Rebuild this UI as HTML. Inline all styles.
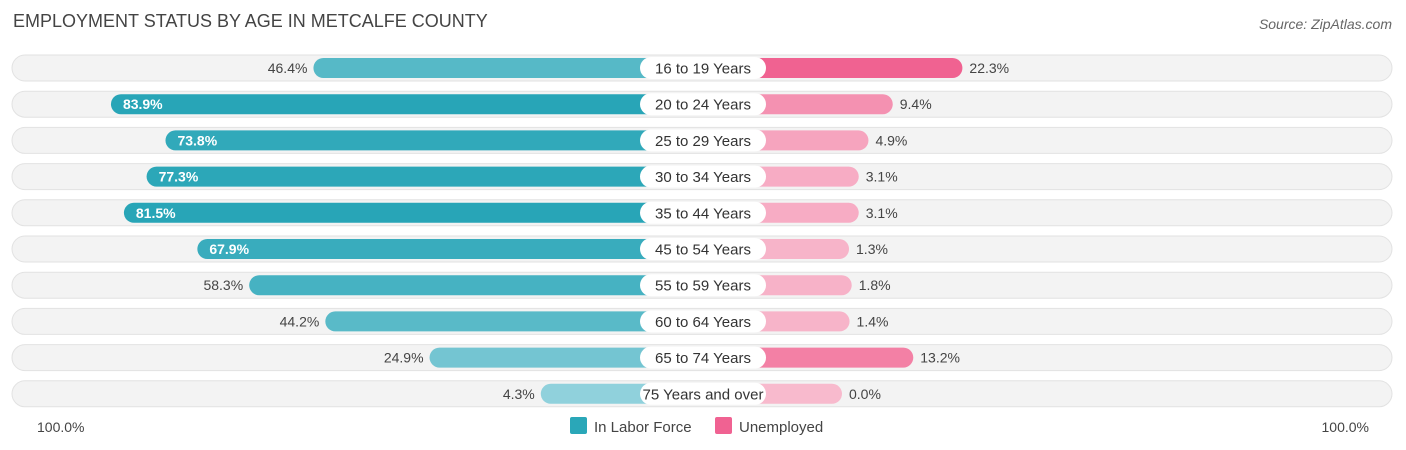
<!DOCTYPE html>
<html><head><meta charset="utf-8"><style>
body{margin:0;background:#fff;font-family:"Liberation Sans",sans-serif;}
#wrap{position:relative;width:1406px;height:450px;overflow:hidden;}
.title{position:absolute;left:13px;top:11px;font-size:18px;color:#444;}
.src{position:absolute;right:14px;top:16px;font-size:14px;color:#666;font-style:italic;}
</style></head><body>
<div id="wrap">
<div class="title">EMPLOYMENT STATUS BY AGE IN METCALFE COUNTY</div>
<div class="src">Source: ZipAtlas.com</div>
<svg id="svg" width="1406" height="450" style="position:absolute;left:0;top:0"></svg>
</div>
<script>
const categories=["16 to 19 Years","20 to 24 Years","25 to 29 Years","30 to 34 Years","35 to 44 Years","45 to 54 Years","55 to 59 Years","60 to 64 Years","65 to 74 Years","75 Years and over"];
const laborForce=[46.4,83.9,73.8,77.3,81.5,67.9,58.3,44.2,24.9,4.3];
const unemployed=[22.3,9.4,4.9,3.1,3.1,1.3,1.8,1.4,13.2,0.0];
const axisLabels=["100.0%","100.0%"];
const NS="http://www.w3.org/2000/svg";
const svg=document.getElementById('svg');
const cx=703,off=139,scale=5.4,y0=68,dy=36.2;
function xl(v){return cx-off-v*scale;}
function xr(v){return cx+off+v*scale;}
function yc(i){return y0+i*dy;}
function mk(t,a){const e=document.createElementNS(NS,t);for(const k in a)e.setAttribute(k,a[k]);svg.appendChild(e);return e;}
function mix(a,b,t){return `rgb(${a.map((c,i)=>Math.round(c+(b[i]-c)*t)).join(',')})`;}
const tealL=[150,212,222],tealD=[40,165,183],pinkL=[248,186,205],pinkD=[240,98,145];
categories.forEach((c,i)=>{
  const y=yc(i);
  const bg=mk('rect',{x:12,y:y-13,width:1380,height:26,rx:13,fill:'#f3f3f3',stroke:'#e2e2e2','stroke-width':1});
  
  
  const lv=laborForce[i],uv=unemployed[i];
  const b1=mk('rect',{x:xl(lv),y:y-10,width:cx-xl(lv),height:20,rx:10,fill:mix(tealL,tealD,Math.min(1,lv/80))});
  
  
  const b2=mk('rect',{x:cx,y:y-10,width:xr(uv)-cx,height:20,rx:10,fill:mix(pinkL,pinkD,Math.min(1,uv/20))});
  
  
  const lb=mk('rect',{x:cx-63,y:y-11,width:126,height:22,rx:11,fill:'#fff'});
  
  
  const t=mk('text',{x:cx,y:y+5.5,'text-anchor':'middle','font-size':15,fill:'#333'});t.textContent=c;
  
  
  const inside=lv>=65;
  const v1=mk('text',{x:inside?xl(lv)+12:xl(lv)-6,y:y+5,'text-anchor':inside?'start':'end','font-size':14,fill:inside?'#fff':'#444','font-weight':inside?'bold':'normal'});
  v1.textContent=lv.toFixed(1)+'%';
  
  
  const v2=mk('text',{x:xr(uv)+7,y:y+5,'font-size':14,fill:'#444'});
  v2.textContent=uv.toFixed(1)+'%';
  
  
});
const a1=mk('text',{x:37,y:432,'font-size':14,fill:'#444'});a1.textContent=axisLabels[0];


const a2=mk('text',{x:1369,y:432,'font-size':14,fill:'#444','text-anchor':'end'});a2.textContent=axisLabels[1];


const l1=mk('rect',{x:570,y:417,width:17,height:17,rx:2,fill:'#2aa7b8'});


const lt1=mk('text',{x:594,y:432,'font-size':15,fill:'#444'});lt1.textContent='In Labor Force';


const l2=mk('rect',{x:715,y:417,width:17,height:17,rx:2,fill:'#f06292'});


const lt2=mk('text',{x:739,y:432,'font-size':15,fill:'#444'});lt2.textContent='Unemployed';


</script>
</body></html>
